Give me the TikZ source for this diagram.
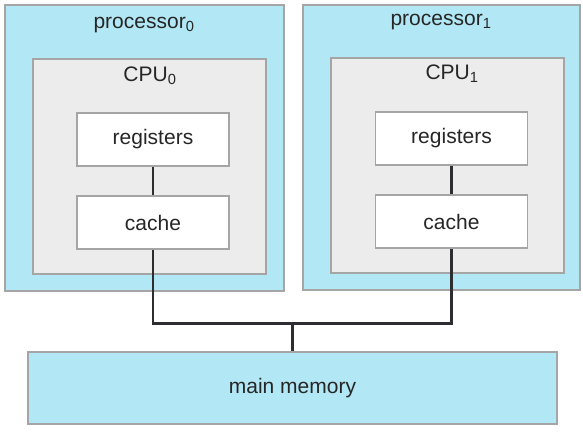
\documentclass[tikz,border=0pt]{standalone}
\usepackage{fontspec}
\setmainfont{Liberation Sans}
\definecolor{procblue}{RGB}{178,232,245}
\definecolor{cpugray}{RGB}{236,236,236}
\definecolor{edgegray}{RGB}{165,165,165}
\definecolor{wire}{RGB}{45,45,50}
\begin{document}
\begin{tikzpicture}[x=1pt,y=-1pt,
  procbox/.style={draw=edgegray,line width=1.3pt,fill=procblue,inner sep=0pt},
  cpubox/.style={draw=edgegray,line width=1.3pt,fill=cpugray,inner sep=0pt},
  unitbox/.style={draw=edgegray,line width=1.3pt,fill=white,inner sep=0pt,minimum width=152pt,minimum height=53pt,font=\fontsize{21}{24}\selectfont,text=black!85},
  lbl/.style={font=\fontsize{21}{24}\selectfont,text=black!85,inner sep=0pt},
  bus/.style={draw=wire,line width=2.6pt,line join=miter}]
\useasboundingbox (0,0) rectangle (583,431);
\node[procbox,minimum width=279pt,minimum height=286pt] (p0) at (144.5,148) {};
\node[procbox,minimum width=277pt,minimum height=285pt] (p1) at (441.5,147.5) {};
\node[cpubox,minimum width=233pt,minimum height=215pt] (c0) at (149.5,166.5) {};
\node[cpubox,minimum width=233pt,minimum height=215pt] (c1) at (447.5,165.5) {};
\node[lbl] (p0l) at (144,25) {processor\textsubscript{0}};
\node[lbl] (p1l) at (441,22) {processor\textsubscript{1}};
\node[lbl] (c0l) at (150,76) {CPU\textsubscript{0}};
\node[lbl] (c1l) at (452,74) {CPU\textsubscript{1}};
\node[unitbox] (r0) at (153,139.5) {registers};
\node[unitbox] (k0) at (153,222.5) {cache};
\node[unitbox] (r1) at (451.5,138.5) {registers};
\node[unitbox] (k1) at (451.5,221.5) {cache};
\node[procbox,minimum width=529pt,minimum height=72pt,font=\fontsize{21}{24}\selectfont,text=black!85] (mem) at (292.5,388) {main memory};
\coordinate (j) at (292.5,323.5);
\draw[bus] (r0) -- (k0);
\draw[bus] (r1) -- (k1);
\draw[bus] (k0.south) |- (j) -| (k1.south);
\draw[bus] (j) -- (mem.north);
\end{tikzpicture}
\end{document}
